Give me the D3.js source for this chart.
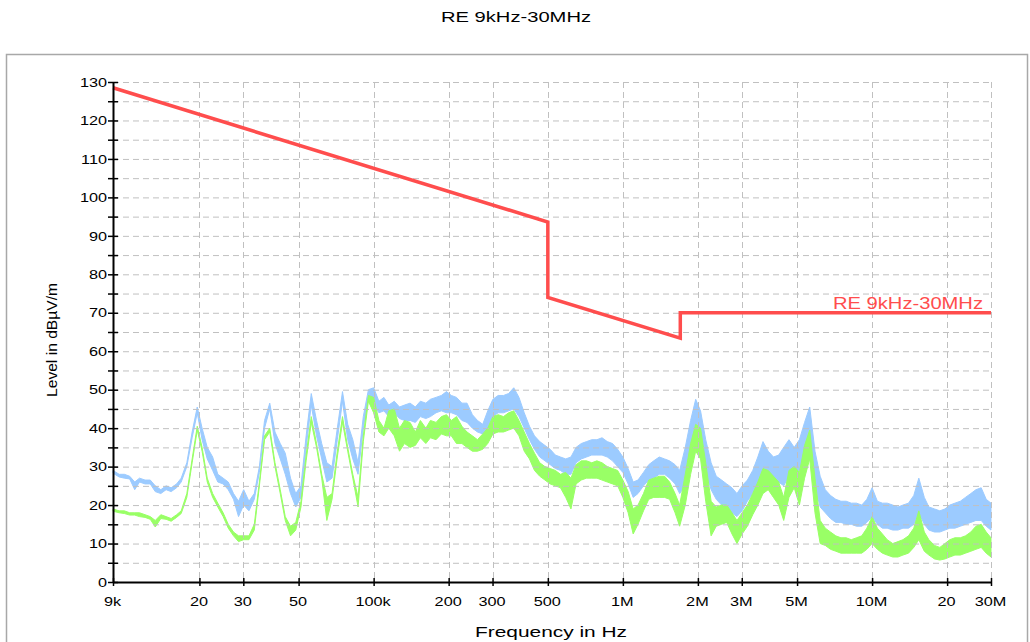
<!DOCTYPE html>
<html>
<head>
<meta charset="utf-8">
<script src="https://cdn.jsdelivr.net/npm/d3@7"></script>
<style>
  body { margin: 0; background: #fff; }
  text { font-family: "Liberation Sans", Arial, sans-serif; fill: #000; }
</style>
</head>
<body>
<svg id="chart" width="1030" height="642"></svg>
<script>
// frequencies in kHz (one column per reading of the trace)
const freqK = [9, 9.53,
  10, 10.5, 11, 11.5, 12.1, 12.7, 13.3, 14, 14.7, 15.4, 16.2, 16.9, 17.8, 18.7, 19.6, 20.5, 21.5, 22.6, 23.7, 24.9, 26.1, 27.4, 28.7, 30.1, 31.6, 33.2, 34.8, 36.5, 38.3, 40.2, 42.2, 44.2, 46.4, 48.7, 51.1, 53.6, 56.2, 59, 61.9, 64.9, 68.1, 71.5, 75, 78.7, 82.5, 86.6, 90.9, 95.3,
  100, 105, 110, 115, 121, 127, 133, 140, 147, 154, 162, 169, 178, 187, 196, 205, 215, 226, 237, 249, 261, 274, 287, 301, 316, 332, 348, 365, 383, 402, 422, 442, 464, 487, 511, 536, 562, 590, 619, 649, 681, 715, 750, 787, 825, 866, 909, 953,
  1000, 1050, 1100, 1150, 1210, 1270, 1330, 1400, 1470, 1540, 1620, 1690, 1780, 1870, 1960, 2050, 2150, 2260, 2370, 2490, 2610, 2740, 2870, 3010, 3160, 3320, 3480, 3650, 3830, 4020, 4220, 4420, 4640, 4870, 5110, 5360, 5620, 5900, 6190, 6490, 6810, 7150, 7500, 7870, 8250, 8660, 9090, 9530,
  10000, 10500, 11000, 11500, 12100, 12700, 13300, 14000, 14700, 15400, 16200, 16900, 17800, 18700, 19600, 20500, 21500, 22600, 23700, 24900, 26100, 27400, 28700, 30000];

// peak trace (blue): upper and lower edge in dBuV/m
const blueHi = [29, 28,
  28, 27.5, 26, 27, 26.5, 26.5, 25, 24, 25, 24.5, 25.5, 27, 31, 39, 45.5, 40, 35, 32.5, 28, 27, 26, 23, 21, 24, 21, 23, 30, 42, 46.5, 39, 36, 33.5, 27, 23, 25, 38, 49, 42, 36, 31, 30, 40, 49.5, 41, 37, 31, 43, 50,
  50.5, 47, 48, 46, 47, 45.5, 46, 46.5, 45.5, 47, 46.5, 47.5, 48, 48.5, 49.5, 48.5, 48, 46.5, 46.5, 43.5, 42, 41, 44.5, 47.5, 48.5, 48.5, 49, 50.5, 48, 44, 40.5, 38, 36.5, 35.5, 34.5, 33, 32.5, 32, 32.5, 35, 36, 36.5, 37, 37, 37.5, 36.5, 36, 34.5,
  32.5, 29.5, 26, 26.5, 28.5, 30.5, 31.5, 32.5, 32, 31.5, 30.5, 29, 35, 42, 47.5, 44.5, 37, 31, 27.5, 26.5, 25.5, 24.5, 23, 25, 26.5, 29, 32.5, 36.5, 34, 32.5, 33, 35, 37, 35, 37, 41.5, 45.5, 34, 27.5, 24, 22.5, 21.5, 21, 21, 20.5, 20.5, 20, 21.5,
  24.5, 21, 20.5, 20.5, 20, 19.5, 20, 20.5, 22.5, 27, 22, 19.5, 19, 18.5, 19, 20, 20.5, 21, 22, 23, 24, 24.5, 21.5, 20.5];
const blueLo = [28.3, 27.3,
  27, 26.8, 24, 26, 25.5, 25.5, 23.5, 23, 24, 23.5, 24.5, 26, 30, 37.5, 44, 37, 32, 29, 26, 25.5, 24, 21.5, 17, 20, 18.5, 21.5, 28.5, 40, 45, 36, 32, 28, 23, 19.5, 22, 35, 46, 38, 32, 26, 27, 37, 47, 37, 32, 28, 40, 48,
  46, 44, 44.5, 43, 44, 42.5, 42, 42, 41.5, 43, 42.5, 43, 44, 44.5, 44, 44, 43.5, 42, 41.5, 40, 39, 38.5, 40, 43, 44, 44, 44.5, 45, 43, 40, 37, 34.5, 32.5, 31.5, 30.5, 29.5, 29, 28, 28, 31, 32, 32.5, 33, 33, 33, 32.5, 31.5, 30,
  28.5, 25.5, 22, 23, 25, 26.5, 27, 28, 28, 27, 25.5, 23, 25, 33, 38, 37, 29, 24, 21.5, 20, 19, 18, 17, 18.5, 21, 23, 26, 28, 27, 26, 26, 25, 27.5, 28, 29, 33, 37, 25, 19.5, 18, 16.5, 15.5, 15.5, 15, 15, 14.5, 14.5, 15.5,
  17, 15, 14, 14, 13.5, 13.5, 14, 14, 15, 18, 15, 13.5, 13, 13, 13.5, 14, 14, 14.5, 15, 15.5, 16, 16, 14.5, 13.5];

// average trace (green): upper and lower edge
const greenHi = [19, 18.5,
  18.5, 18, 18, 18, 17.5, 17, 16, 17.5, 17, 16.5, 17.5, 18.5, 23, 32, 40.5, 35, 27, 23, 20.5, 18, 15, 13, 12, 12, 12, 15, 26, 38, 40, 31, 24, 17, 14.5, 15.5, 21, 33, 43, 36, 28, 22, 23, 34, 43, 35, 28, 22, 38, 48.5,
  48, 42, 40, 44.5, 45, 40, 42, 41.5, 39, 42, 40, 42, 41.5, 43, 43.5, 42, 43, 40.5, 39, 38, 37, 38.5, 40, 43, 43.5, 43, 44, 44.5, 42, 39, 36, 33.5, 31, 30, 29.5, 29, 28, 28.5, 27, 30.5, 31.5, 31.5, 31, 31.5, 31, 30, 29.5, 29,
  26.5, 23.5, 19, 20, 23, 26.5, 27, 27.5, 27.5, 26, 23, 20, 28, 36, 41, 40, 31, 21, 19.5, 20, 20, 18, 16, 18, 20, 23, 26, 29.5, 29, 27.5, 26, 22, 29, 30, 28.5, 35.5, 39.5, 27, 16, 14, 13, 12, 11.5, 11.5, 11, 11.5, 12, 14,
  17, 14, 12.5, 11, 10, 10.5, 11, 12, 14, 18.5, 13, 11, 9.5, 9, 10, 11, 11.5, 11.5, 12, 13, 14.5, 15, 13, 11.5];
const greenLo = [18.4, 18,
  17.8, 17.4, 17.4, 17, 16.8, 16.3, 14.3, 16.5, 16.3, 15.8, 16.8, 17.8, 22, 31, 39.5, 34, 26, 22, 19.5, 17, 14, 12, 10.5, 11, 11, 13.5, 25, 37, 39, 30, 23, 16, 12, 13.5, 19.5, 31.5, 41.5, 35, 27, 16, 21.5, 32.5, 41.5, 34, 27, 19.5, 36.5, 47,
  44, 39, 38, 40, 38, 34, 36, 35, 35.5, 37.5, 36, 37.5, 37, 38.5, 38, 38, 36, 36, 35, 34, 34, 34.5, 36, 38.5, 39, 39, 39.5, 40, 38, 34, 32, 29, 27.5, 26.5, 25.5, 25, 24.5, 22, 19, 25.5, 26.5, 27, 27, 27, 26.5, 26, 25.5, 25,
  22, 18, 12.5, 15, 18.5, 21.5, 22, 22, 22, 21.5, 18, 14.5, 20, 28, 34, 32, 21, 12, 14.5, 15, 15.5, 12.5, 10, 12.5, 14.5, 17.5, 20, 23, 24, 22, 20, 16, 22, 24.5, 20, 27, 32, 18, 10, 9.5, 8.5, 8, 7.5, 7.5, 7.5, 7.5, 7.5, 8.5,
  10, 8.5, 7.5, 7, 6.5, 6.5, 7, 7.5, 9, 11, 8, 7, 6, 5.7, 6, 6.5, 7, 7, 7.5, 8, 8.5, 9, 7.5, 6.5];

// limit line RE 9kHz-30MHz
const limitK = [9, 500, 500, 1700, 1700, 30000];
const limitV = [128.5, 93.6, 74, 63.4, 70, 70];

const xTickK = [9, 20, 30, 50, 100, 200, 300, 500, 1000, 2000, 3000, 5000, 10000, 20000, 30000];
const xTickLabels = ["9k", "20", "30", "50", "100k", "200", "300", "500", "1M", "2M", "3M", "5M", "10M", "20", "30M"];
const yTicks = [0, 5, 10, 15, 20, 25, 30, 35, 40, 45, 50, 55, 60, 65, 70, 75, 80, 85, 90, 95, 100, 105, 110, 115, 120, 125, 130];

const blue = "#9ccbff", green = "#99ff66", red = "#ff4d4d", gridCol = "#c0c0c0";

const svg = d3.select("#chart");
const x = d3.scaleLog().domain([9000, 30e6]).range([113, 991]);
const y = d3.scaleLinear().domain([0, 130]).range([582, 82]);

// the original render has wide glyphs, so stretch the text a bit
function widen(sel, k) {
  sel.each(function() {
    const w = this.getComputedTextLength();
    d3.select(this).attr("textLength", w * k).attr("lengthAdjust", "spacingAndGlyphs");
  });
}

svg.append("rect").attr("width", 1030).attr("height", 642).attr("fill", "#fff");
svg.append("rect")
  .attr("x", 6.5).attr("y", 54.5).attr("width", 1021).attr("height", 700)
  .attr("fill", "none").attr("stroke", "#a8a8a8").attr("stroke-width", 1.5);

const rows = freqK.map((f, i) => ({ f: f * 1000, bh: blueHi[i], bl: blueLo[i], gh: greenHi[i], gl: greenLo[i] }));

const band = (hi, lo) => d3.area()
  .x(d => x(d.f))
  .y0(d => y(d[lo]))
  .y1(d => y(d[hi]));

svg.append("path").datum(rows)
  .attr("d", band("bh", "bl"))
  .attr("fill", blue).attr("stroke", blue).attr("stroke-width", 1);
svg.append("path").datum(rows)
  .attr("d", band("gh", "gl"))
  .attr("fill", green).attr("stroke", green).attr("stroke-width", 1);

// dashed grid on top of the traces
const grid = svg.append("g").attr("stroke", gridCol).attr("stroke-width", 1).attr("stroke-dasharray", "6,4");
grid.selectAll(".hg").data(yTicks.filter(v => v > 0)).enter().append("line")
  .attr("x1", x(9000)).attr("x2", x(30e6))
  .attr("y1", d => y(d) + 0.5).attr("y2", d => y(d) + 0.5);
grid.selectAll(".vg").data(xTickK.slice(1)).enter().append("line")
  .attr("x1", d => Math.round(x(d * 1000)) + 0.5).attr("x2", d => Math.round(x(d * 1000)) + 0.5)
  .attr("y1", y(130)).attr("y2", y(0));

// limit line
const limitRows = limitK.map((f, i) => ({ f: f * 1000, v: limitV[i] }));
svg.append("path").datum(limitRows)
  .attr("d", d3.line().x(d => x(d.f)).y(d => y(d.v)))
  .attr("fill", "none").attr("stroke", red).attr("stroke-width", 3.5);

const legend = svg.append("text")
  .attr("x", 983).attr("y", 309)
  .attr("text-anchor", "end")
  .attr("font-size", 16)
  .style("fill", red)
  .text("RE 9kHz-30MHz");
legend.attr("textLength", 150).attr("lengthAdjust", "spacingAndGlyphs");

// axes
const yAxis = d3.axisLeft(y)
  .tickValues(yTicks)
  .tickFormat(d => (d % 10 === 0 ? d : ""))
  .tickSize(5).tickPadding(1).tickSizeOuter(0);
const gy = svg.append("g").attr("transform", "translate(113,0)").call(yAxis);
gy.select(".domain").attr("stroke", "#000").attr("stroke-width", 2);
gy.selectAll(".tick line").attr("x1", 5).attr("stroke", "#000").attr("stroke-width", 1.5);
gy.selectAll("text").attr("font-size", 13).attr("font-family", "Liberation Sans, Arial, sans-serif");
widen(gy.selectAll("text"), 1.25);

const xAxis = d3.axisBottom(x)
  .tickValues(xTickK.map(k => k * 1000))
  .tickFormat((d, i) => xTickLabels[i])
  .tickSize(4).tickPadding(11).tickSizeOuter(0);
const gx = svg.append("g").attr("transform", "translate(0,582)").call(xAxis);
gx.select(".domain").attr("stroke", "#000").attr("stroke-width", 2);
gx.selectAll(".tick line").attr("y1", -4).attr("stroke", "#000").attr("stroke-width", 1.5);
gx.selectAll("text").attr("font-size", 13).attr("font-family", "Liberation Sans, Arial, sans-serif").attr("dx", -1);
widen(gx.selectAll("text"), 1.25);

// titles
svg.append("text")
  .attr("x", 516).attr("y", 22)
  .attr("text-anchor", "middle").attr("font-size", 15)
  .attr("textLength", 150).attr("lengthAdjust", "spacingAndGlyphs")
  .text("RE 9kHz-30MHz");

svg.append("text")
  .attr("x", 551).attr("y", 637)
  .attr("text-anchor", "middle").attr("font-size", 15)
  .attr("textLength", 152).attr("lengthAdjust", "spacingAndGlyphs")
  .text("Frequency in Hz");

svg.append("text")
  .attr("transform", "translate(57,340) rotate(-90)")
  .attr("text-anchor", "middle").attr("font-size", 14)
  .attr("textLength", 114).attr("lengthAdjust", "spacingAndGlyphs")
  .text("Level in dBµV/m");
</script>
</body>
</html>
